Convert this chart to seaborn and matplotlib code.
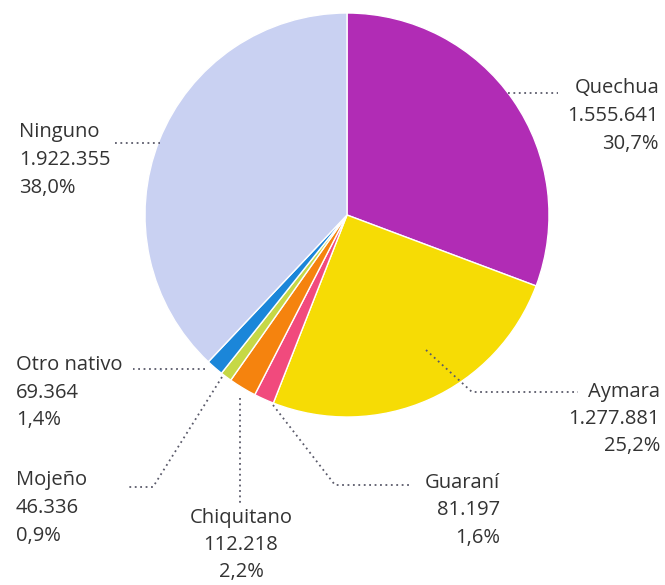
import matplotlib.pyplot as plt
import seaborn as sns

# data
idiomas = ["Quechua", "Aymara", "Guaraní", "Chiquitano", "Mojeño", "Otro nativo", "Ninguno"]
hablantes = [1555641, 1277881, 81197, 112218, 46336, 69364, 1922355]
porcentajes = ["30,7%", "25,2%", "1,6%", "2,2%", "0,9%", "1,4%", "38,0%"]
colores = ["#b12cb5", "#f6dc05", "#f14a7d", "#f5830e", "#c6d846", "#1b86d9", "#c9d1f2"]

sns.set_theme(style="white")
plt.rcParams["font.family"] = ["Open Sans", "DejaVu Sans"]

W, H = 665, 585
fig = plt.figure(figsize=(6.65, 5.85), dpi=100)
ax = fig.add_axes([0, 0, 1, 1])


def py(y):
    # image pixel row -> axis y
    return H - y


ax.pie(hablantes, colors=colores, startangle=90, counterclock=False,
       center=(347, py(215)), radius=202,
       wedgeprops=dict(edgecolor="white", linewidth=1))
ax.set_xlim(0, W)
ax.set_ylim(0, H)
ax.set_aspect("equal")
ax.axis("off")

# label layout: (x, y of block centre, alignment) and leader line points
etiquetas = {
    "Quechua": (659, 116, "right"),
    "Aymara": (660, 419, "right"),
    "Guaraní": (500, 510, "right"),
    "Chiquitano": (241, 545, "center"),
    "Mojeño": (16, 508, "left"),
    "Otro nativo": (16, 393, "left"),
    "Ninguno": (19, 160, "left"),
}
guias = {
    "Quechua": [(508, 93), (558, 93)],
    "Aymara": [(426, 350), (472, 392), (578, 392)],
    "Guaraní": [(273, 405), (335, 485), (412, 485)],
    "Chiquitano": [(240, 398), (240, 505)],
    "Mojeño": [(222, 377), (153, 487), (127, 487)],
    "Otro nativo": [(205, 369), (133, 369)],
    "Ninguno": [(115, 143), (160, 143)],
}

for nombre, n, pct in zip(idiomas, hablantes, porcentajes):
    x, y, al = etiquetas[nombre]
    texto = "\n".join([nombre, f"{n:,}".replace(",", "."), pct])
    ax.text(x, py(y), texto, ha=al, va="center", multialignment=al,
            fontsize=14.5, color="#333333", linespacing=1.5)
    pts = guias[nombre]
    ax.plot([p[0] for p in pts], [py(p[1]) for p in pts], color="#5a5a6a",
            lw=1.3, linestyle=(0, (1, 2)))

fig.savefig("out.png", dpi=100)
